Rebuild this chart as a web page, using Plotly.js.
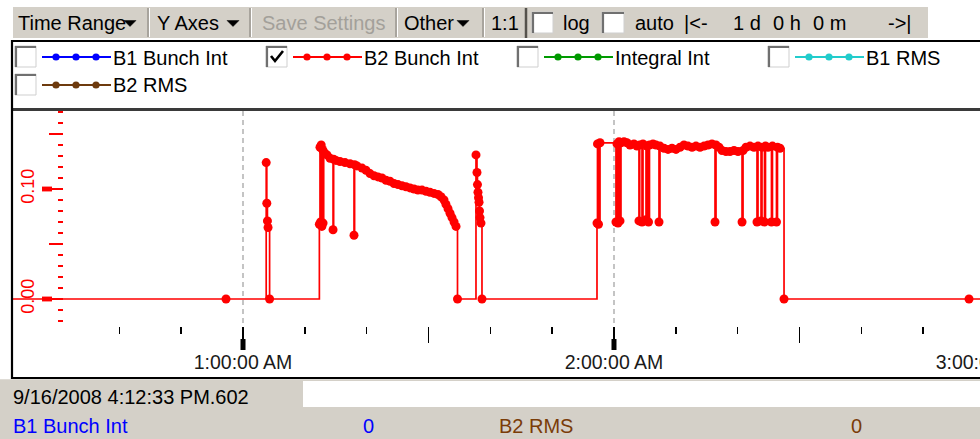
<!DOCTYPE html>
<html>
<head>
<meta charset="utf-8">
<script src="https://cdn.plot.ly/plotly-3.0.1.min.js"></script>
<style>
html, body { margin: 0; padding: 0; overflow: hidden; background: #fff; }
#chart { width: 1000px; height: 439px; }
</style>
</head>
<body>
<div id="chart"></div>
<script>
// ---------------- data ----------------
const dayStart = [2008, 8, 16];            // 16 Sep 2008 (month is 0-based)
// minutes after midnight of each B2 Bunch Int sample
const timeMinutes = [
  15, 57.25,
  63.75, 63.85, 63.95, 64.05, 64.30,
  72.35, 72.45, 72.55, 72.65, 72.75, 72.85, 72.95, 73.05,
  73.26, 73.59, 74.07, 74.56, 74.66, 75.04, 75.69, 76.50, 77.31,
  77.95, 78.05, 78.44, 79.25, 79.89, 80.54, 81.19, 81.83, 82.48, 83.13,
  83.77, 84.42, 85.07, 85.71, 86.36, 87.01, 87.66, 88.30, 88.95, 89.60,
  90.24, 90.89, 91.54, 92.02, 92.51, 92.83, 93.16, 93.48, 93.80, 94.13,
  94.45, 94.69,
  97.68, 97.84, 97.92, 98.00, 98.09, 98.17, 98.25, 98.33, 98.49, 98.65,
  117.25, 117.33, 117.49, 117.74,
  120.32, 120.49, 120.65, 120.81, 120.97, 121.13, 121.62, 122.10, 122.59, 123.23,
  123.72, 124.04, 124.16, 124.53, 124.69, 125.18, 125.34, 125.58, 125.74, 126.31,
  126.79, 127.28, 127.44, 128.09, 128.74, 129.38, 130.03, 130.68, 131.32, 131.97,
  132.62, 133.26, 133.91, 134.56, 135.20, 135.85, 136.34, 136.50, 136.99, 137.47,
  138.12, 138.76, 139.41, 140.06, 140.71, 140.87, 141.35, 142.00, 142.64, 143.13,
  143.29, 143.78, 143.94, 144.34, 144.50, 144.91, 145.47, 145.63, 146.28, 146.44,
  146.85, 147.50,
  177.42, 190
];
const b2BunchInt = [
  0, 0,
  0.124, 0.087, 0.071, 0.065, 0,
  0.068, 0.138, 0.070, 0.140, 0.066, 0.136, 0.069, 0.134,
  0.132, 0.131, 0.128, 0.063, 0.127, 0.126, 0.125, 0.124, 0.123,
  0.058, 0.122, 0.121, 0.119, 0.117, 0.114, 0.112, 0.111, 0.110, 0.108,
  0.107, 0.105, 0.104, 0.103, 0.102, 0.101, 0.100, 0.099, 0.099, 0.098,
  0.097, 0.096, 0.095, 0.093, 0.090, 0.086, 0.082, 0.078, 0.074, 0.070,
  0.066, 0,
  0.131, 0.115, 0.104, 0.097, 0.092, 0.088, 0.080, 0.074, 0.069, 0,
  0.069, 0.141, 0.068, 0.142,
  0.070, 0.141, 0.069, 0.143, 0.071, 0.142, 0.143, 0.142, 0.140, 0.141,
  0.139, 0.071, 0.140, 0.070, 0.141, 0.072, 0.139, 0.070, 0.140, 0.141,
  0.140, 0.070, 0.139, 0.137, 0.136, 0.137, 0.136, 0.138, 0.140, 0.139,
  0.138, 0.139, 0.138, 0.139, 0.140, 0.141, 0.070, 0.140, 0.138, 0.135,
  0.134, 0.134, 0.135, 0.134, 0.070, 0.135, 0.138, 0.139, 0.138, 0.070,
  0.139, 0.071, 0.138, 0.070, 0.139, 0.138, 0.070, 0.139, 0.070, 0.138,
  0.137, 0,
  0, 0
];
const seriesNames   = ['B1 Bunch Int', 'B2 Bunch Int', 'Integral Int', 'B1 RMS', 'B2 RMS'];
const seriesColors  = ['#0000ff', '#ff0000', '#009a00', '#22cccc', '#6e3b0e'];
const seriesChecked = [false, true, false, false, false];
const yTickVals = [0, 0.05, 0.10, 0.15];
const yTickText = ['0.00', '', '0.10', ''];
const yLabeledTicks = [0, 0.10];
const hourTickMinutes = [60, 120, 180];
const halfHourTickMinutes = [90, 150];
const tenMinuteTickMinutes = [40, 50, 70, 80, 100, 110, 130, 140, 160, 170];
const toolbarItems = ['Time Range', 'Y Axes', 'Save Settings', 'Other', '1:1', 'log', 'auto'];
const spanText = ['|<-', '1 d', '0 h', '0 m', '->|'];
const timestampText = '9/16/2008 4:12:33 PM.602';
const statusNames  = ['B1 Bunch Int', 'B2 RMS'];
const statusValues = ['0', '0'];
const statusColors = ['#0000ff', '#7a3c08'];

// ---------------- helpers ----------------
const W = 1000, H = 439;
const X = p => p / W;
const Y = p => 1 - p / H;
function toDate(min) {
  const ms = Math.round(min * 60000);
  const d = new Date(Date.UTC(dayStart[0], dayStart[1], dayStart[2]) + ms);
  return d.toISOString().slice(0, 23).replace('T', ' ');
}
const FONT = '"Liberation Sans", Arial, "DejaVu Sans", sans-serif';
const GRAY = '#d4d0c8';

const shapes = [];
const annotations = [];
function rect(x0, y0, x1, y1, fill, lineColor, lw) {
  shapes.push({type: 'rect', xref: 'paper', yref: 'paper', x0: X(x0), x1: X(x1), y0: Y(y1), y1: Y(y0),
    fillcolor: fill, line: {color: lineColor || fill, width: lw || 0}, layer: 'above'});
}
function line(x0, y0, x1, y1, color, width) {
  shapes.push({type: 'line', xref: 'paper', yref: 'paper', x0: X(x0), x1: X(x1), y0: Y(y0), y1: Y(y1),
    line: {color: color, width: width}, layer: 'above'});
}
function path(pts, color, width, fill) {
  const d = pts.map((p, i) => (i ? 'L' : 'M') + X(p[0]) + ',' + Y(p[1])).join(' ') + (fill ? ' Z' : '');
  shapes.push({type: 'path', xref: 'paper', yref: 'paper', path: d,
    line: {color: color, width: width}, fillcolor: fill || 'rgba(0,0,0,0)', layer: 'above'});
}
function dot(cx, cy, r, color) {
  shapes.push({type: 'circle', xref: 'paper', yref: 'paper', x0: X(cx - r), x1: X(cx + r), y0: Y(cy + r), y1: Y(cy - r),
    fillcolor: color, line: {width: 0}, layer: 'above'});
}
function text(str, x, y, color, size, anchor) {
  annotations.push({text: str, xref: 'paper', yref: 'paper', x: X(x), y: Y(y), xanchor: anchor || 'left', yanchor: 'middle',
    showarrow: false, font: {family: FONT, size: size || 20, color: color || '#000'}});
}
function checkbox(x0, y0, x1, y1, checked) {
  rect(x0, y0, x1, y1, '#ffffff', '#cfcfcf', 1);
  path([[x0 + 1, y1], [x0 + 1, y0 + 1], [x1, y0 + 1]], '#707070', 2.2);
  if (checked) path([[x0 + 5, y0 + 10], [x0 + 9, y0 + 15], [x1 - 4, y0 + 5]], '#000000', 2.6);
}
function triangle(x0, y0) {
  path([[x0, y0], [x0 + 12, y0], [x0 + 6, y0 + 6]], '#000', 0.5, '#000');
}

// ---------------- toolbar ----------------
rect(13, 7, 928, 38, GRAY);
[148, 250, 396, 483].forEach(sx => { line(sx, 8, sx, 37, '#8a8780', 1.2); line(sx + 1.5, 8, sx + 1.5, 37, '#ffffff', 1); });
line(526, 8, 526, 38, '#55524c', 2.5);
text(toolbarItems[0], 16, 22.5);  triangle(124, 20.5);
text(toolbarItems[1], 155, 22.5); triangle(227, 20.5);
text(toolbarItems[2], 260, 22.5, '#a3a09a');
text(toolbarItems[3], 402, 22.5); triangle(457, 20.5);
text(toolbarItems[4], 489, 22.5);
checkbox(532, 12, 553, 33, false);
text(toolbarItems[5], 561, 22.5);
checkbox(602, 12, 624, 33, false);
text(toolbarItems[6], 633, 22.5);
[682, 731, 771, 811, 886].forEach((sx, i) => text(spanText[i], sx, 22.5));

// ---------------- legend box ----------------
line(12, 41, 1000, 41, '#000', 2.2);
const legendPos = [[15, 46], [266, 46], [517, 46], [768, 46], [15, 74]];
seriesNames.forEach((name, i) => {
  const [cx, cy] = legendPos[i];
  checkbox(cx, cy, cx + 21, cy + 21, seriesChecked[i]);
  const ly = cy + 11;
  line(cx + 27, ly, cx + 96, ly, seriesColors[i], 2);
  [cx + 41, cx + 61, cx + 81].forEach(dx => dot(dx, ly, 3.6, seriesColors[i]));
  text(name, cx + 96, ly + 0.5);
});

// ---------------- plot frame ----------------
line(12, 109.5, 1000, 109.5, '#3a3a3a', 3);
line(12, 40, 12, 379, '#000', 2.2);
line(12, 378, 1000, 378, '#000', 2.2);

// ---------------- status area ----------------
rect(0, 379.2, 1000, 439, GRAY);
rect(303, 381, 1000, 407, '#ffffff');
text(timestampText, 11, 397, '#000', 20);
text(statusNames[0], 11, 425.5, statusColors[0], 20);
text(statusValues[0], 368, 425.5, statusColors[0], 20, 'center');
text(statusNames[1], 497, 425.5, statusColors[1], 20);
text(statusValues[1], 856, 425.5, statusColors[1], 20, 'center');

// ---------------- axis decorations (from the tick arrays, through the axes) ----------------
yLabeledTicks.forEach(v => shapes.push({type: 'rect', xref: 'paper', yref: 'y', x0: X(42), x1: X(52),
  y0: v - 0.0022, y1: v + 0.0022, fillcolor: '#ff0000', line: {width: 0}, layer: 'above'}));
hourTickMinutes.forEach(m => shapes.push({type: 'line', xref: 'x', yref: 'paper', x0: toDate(m), x1: toDate(m),
  y0: Y(350), y1: Y(339), line: {color: '#000', width: 5}, layer: 'above'}));

// ---------------- chart ----------------
const xRange = [toDate(22.8), toDate(182.43)];
const yRange = [(299 - 326) / 1100, (299 - 111) / 1100];

const traces = [
  {x: timeMinutes.map(toDate), y: b2BunchInt, type: 'scatter', mode: 'lines+markers',
   name: seriesNames[1], xaxis: 'x', yaxis: 'y',
   line: {shape: 'hv', color: seriesColors[1], width: 1.7},
   marker: {size: 9, color: seriesColors[1]}, hoverinfo: 'skip', showlegend: false},
  {x: [], y: [], type: 'scatter', xaxis: 'x2', yaxis: 'y', showlegend: false, hoverinfo: 'skip'}
];

const layout = {
  width: W, height: H,
  margin: {l: 0, r: 0, t: 0, b: 0, pad: 0},
  paper_bgcolor: '#ffffff', plot_bgcolor: '#ffffff',
  font: {family: FONT, size: 19, color: '#000'},
  showlegend: false,
  xaxis: {
    type: 'date', domain: [X(13), 1], range: xRange, anchor: 'y',
    tick0: toDate(0), dtick: 3600000, tickformat: '%-I:%M:%S %p',
    ticks: 'outside', ticklen: 22, tickwidth: 2, tickcolor: '#000',
    tickfont: {family: FONT, size: 19.5, color: '#1a1a1a'},
    ticklabeloverflow: 'allow', ticklabelstandoff: -3,
    showline: false, zeroline: false,
    showgrid: true, gridcolor: '#c4c4c4', gridwidth: 1.5, griddash: '5px,4px',
    minor: {tickmode: 'array', tickvals: tenMinuteTickMinutes.map(toDate), ticks: 'outside', ticklen: 7,
            tickwidth: 1.6, tickcolor: '#000', showgrid: false},
    fixedrange: true
  },
  xaxis2: {
    type: 'date', domain: [X(13), 1], range: xRange, anchor: 'y', overlaying: 'x',
    tickmode: 'array', tickvals: halfHourTickMinutes.map(toDate), ticktext: halfHourTickMinutes.map(() => ''),
    ticks: 'outside', ticklen: 16, tickwidth: 1.6, tickcolor: '#000',
    showticklabels: false, showgrid: false, showline: false, zeroline: false, fixedrange: true
  },
  yaxis: {
    domain: [Y(326), Y(111)], range: yRange, anchor: 'free', position: X(63), side: 'left',
    tickmode: 'array', tickvals: yTickVals, ticktext: yTickText,
    ticks: 'outside', ticklen: 14, tickwidth: 1.6, tickcolor: '#ff0000',
    tickangle: -90, ticklabelstandoff: 8,
    tickfont: {family: FONT, size: 18, color: '#ff0000'},
    minor: {tick0: 0, dtick: 0.01, ticks: 'outside', ticklen: 5, tickwidth: 1.6, tickcolor: '#ff0000', showgrid: false},
    showline: false, showgrid: false, zeroline: false, fixedrange: true
  },
  shapes: shapes,
  annotations: annotations
};

Plotly.newPlot('chart', traces, layout, {displayModeBar: false, staticPlot: true});
</script>
</body>
</html>
